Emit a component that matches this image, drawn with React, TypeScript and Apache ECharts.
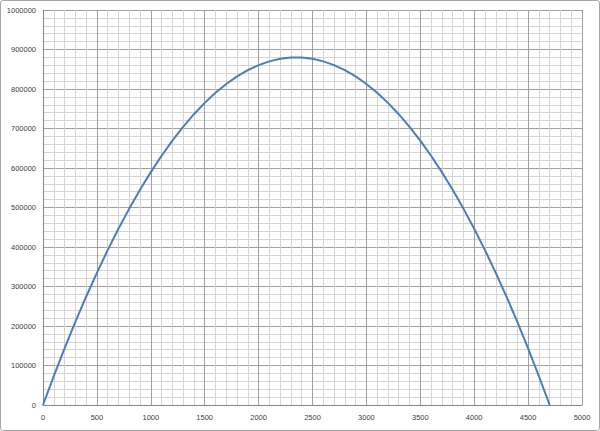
import React, { useEffect, useRef } from "react";
import * as echarts from "echarts";

const xValues = [0, 100, 200, 300, 400, 500, 600, 700, 800, 900, 1000, 1100, 1200, 1300, 1400, 1500, 1600, 1700, 1800, 1900, 2000, 2100, 2200, 2300, 2400, 2500, 2600, 2700, 2800, 2900, 3000, 3100, 3200, 3300, 3400, 3500, 3600, 3700, 3800, 3900, 4000, 4100, 4200, 4300, 4400, 4500, 4600, 4700];
const yValues = [0, 73300, 143400, 210300, 274100, 334600, 392000, 446200, 497200, 545000, 589600, 631000, 669300, 704300, 736200, 764900, 790400, 812700, 831800, 847700, 860500, 870000, 876400, 879600, 879600, 876400, 870000, 860500, 847700, 831800, 812700, 790400, 764900, 736200, 704300, 669300, 631000, 589600, 545000, 497200, 446200, 392000, 334600, 274100, 210300, 143400, 73300, 0];

export default function App() {
  const ref = useRef<HTMLDivElement>(null);
  useEffect(() => {
    if (!ref.current) return;
    const chart = echarts.init(ref.current, null, { renderer: "svg" });
    const data = xValues.map((x, i) => [x, yValues[i]]);
    const axisLabel = {
      color: "#404040",
      fontSize: 7.5,
      fontFamily: "Liberation Sans",
      formatter: (v: number) => String(v),
    };
    chart.setOption({
      animation: false,
      backgroundColor: "#ffffff",
      grid: { left: 43, right: 18, top: 10, bottom: 26, containLabel: false },
      graphic: [
        {
          type: "rect",
          shape: { x: 0.5, y: 0.5, width: 599, height: 430, r: 2 },
          style: { fill: "none", stroke: "#a6a6a6", lineWidth: 1 },
          silent: true,
        },
      ],
      xAxis: {
        type: "value",
        min: 0,
        max: 5000,
        interval: 500,
        axisLine: { show: true, lineStyle: { color: "#868686" } },
        axisTick: { show: false },
        axisLabel: { ...axisLabel, margin: 8 },
        splitLine: { show: true, lineStyle: { color: "#a0a0a0", width: 1 } },
        minorTick: { show: false, splitNumber: 5 },
        minorSplitLine: { show: true, lineStyle: { color: "#d4d4d4", width: 1 } },
      },
      yAxis: {
        type: "value",
        min: 0,
        max: 1000000,
        interval: 100000,
        axisLine: { show: true, lineStyle: { color: "#868686" } },
        axisTick: { show: false },
        axisLabel: { ...axisLabel, margin: 7 },
        splitLine: { show: true, lineStyle: { color: "#a0a0a0", width: 1 } },
        minorTick: { show: false, splitNumber: 5 },
        minorSplitLine: { show: true, lineStyle: { color: "#d4d4d4", width: 1 } },
      },
      series: [
        {
          type: "line",
          data,
          smooth: false,
          showSymbol: false,
          lineStyle: { color: "#4a7ebb", width: 2 },
        },
      ],
    });
    return () => chart.dispose();
  }, []);
  return (
    <div
      ref={ref}
      style={{ position: "fixed", left: 0, top: 0, width: 600, height: 431 }}
    />
  );
}
